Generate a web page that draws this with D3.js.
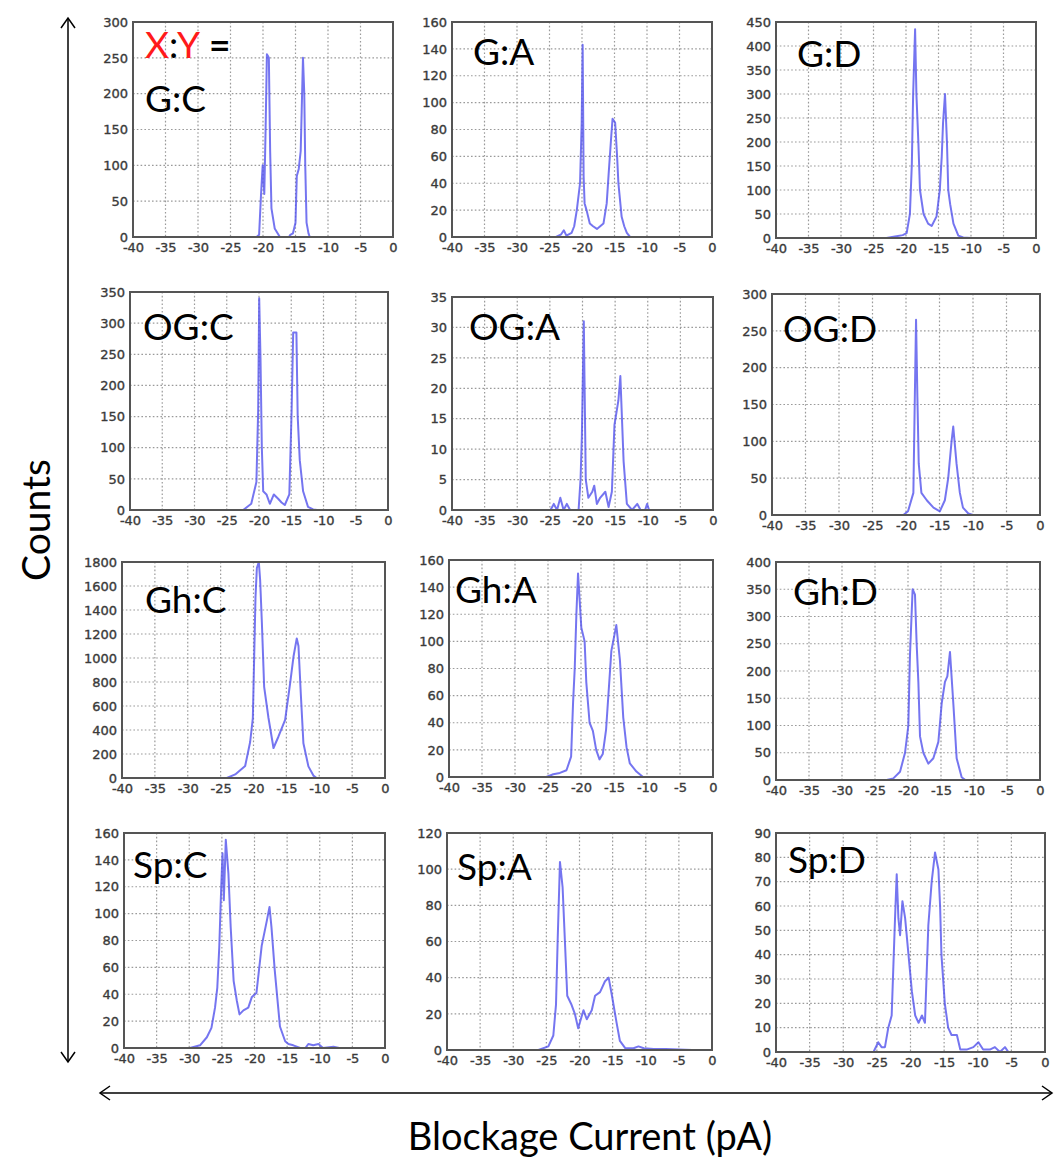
<!DOCTYPE html>
<html><head><meta charset="utf-8">
<script src="https://cdn.jsdelivr.net/npm/d3@7"></script>
<style>body{margin:0;background:#fff}</style>
</head><body>
<svg id="c" width="1054" height="1158"></svg>
<script>
// ---------- DATA ----------
const xTicks = [-40, -35, -30, -25, -20, -15, -10, -5, 0];
const panelNames = ["G:C","G:A","G:D","OG:C","OG:A","OG:D","Gh:C","Gh:A","Gh:D","Sp:C","Sp:A","Sp:D"];
const yMaxes = [300,160,450,350,35,300,1800,160,400,160,120,90];
const ySteps = [50,20,50,50,5,50,200,20,50,20,20,10];

const GC_current = [-22,-21,-20.6,-20.3,-20.05,-19.8,-19.6,-19.4,-19.1,-18.9,-18.7,-18.2,-17.4,-16,-15.8,-15.4,-15.0,-14.8,-14.5,-14.2,-14.05,-13.85,-13.65,-13.5,-13.3,-13.0,-12.8,-12];
const GC_counts  = [0,0,3,60,100,60,150,255,250,120,40,12,0,0,3,5,20,85,95,120,175,250,200,100,20,5,0,0];

const GA_current = [-25,-24,-23.2,-22.8,-22.4,-21.6,-21.2,-20.8,-20.3,-20.05,-19.9,-19.75,-19.6,-19.3,-18.8,-18.3,-17.7,-17.2,-16.7,-16.2,-15.9,-15.5,-15.3,-14.9,-14.6,-14.4,-13.9,-13.5,-13.1,-12.6,-12];
const GA_counts  = [0,0,2,5,1,3,8,20,40,85,143,45,25,20,10,8,6,8,10,25,47,75,88,85,60,40,15,8,3,0,0];

const GD_current = [-23,-21.7,-20.5,-19.9,-19.4,-19.1,-18.9,-18.6,-18.4,-18.1,-17.85,-17.3,-16.6,-16.05,-15.3,-14.8,-14.5,-14.3,-14.0,-13.7,-13.5,-13.2,-12.7,-11.95,-11.2,-10];
const GD_counts  = [0,3,6,10,50,155,300,435,300,200,100,50,30,25,45,100,170,240,300,200,100,70,30,5,1,0];

const OGC_current = [-23,-22.45,-21.2,-20.4,-20.13,-19.97,-19.77,-19.56,-19.35,-18.84,-18.32,-17.7,-17.03,-16.5,-16.0,-15.3,-14.94,-14.7,-14.2,-14.0,-13.68,-13.16,-12.4,-11.6,-11];
const OGC_counts  = [0,0,10,45,160,340,245,100,30,25,10,25,18,12,8,25,160,285,285,150,80,30,5,1,0];

const OGA_current = [-26,-24.9,-24.4,-23.9,-23.4,-22.9,-22.4,-21.9,-20.6,-20.3,-20.1,-19.8,-19.7,-19.5,-19.1,-18.5,-18.2,-17.8,-17.3,-16.5,-16.0,-15.5,-15.1,-14.5,-14.2,-13.7,-13.2,-12.4,-11.6,-11.1,-10.4,-10.1,-9.8,-9];
const OGA_counts  = [0,0,1,0,2,0,1,0,0,5,12,31,22,5,2,3,4,1,2,3,0.5,3,14,18,22,8,1,0,1,0,0,1,0,0];

const OGD_current = [-21,-20.4,-19.7,-18.9,-18.7,-18.5,-18.3,-18.1,-17.7,-16.9,-15.9,-14.95,-14.2,-13.7,-13.2,-12.95,-12.46,-11.96,-11.5,-10.7,-10];
const OGD_counts  = [0,0,5,30,150,265,160,70,30,20,10,5,20,50,100,120,70,30,10,2,0];

const GhC_current = [-24.5,-24.05,-22.78,-21.27,-20.51,-20.1,-19.9,-19.7,-19.49,-19.19,-18.99,-18.73,-18.38,-17.72,-16.96,-16.2,-15.19,-14.43,-13.92,-13.42,-13.16,-12.81,-12.41,-11.65,-10.89,-10.4,-10];
const GhC_counts  = [0,0,30,100,300,500,1000,1500,1750,1800,1650,1300,760,500,250,346,485,789,1010,1163,1100,706,290,97,20,0,0];

const GhA_current = [-26,-25.25,-24.2,-23.2,-22.2,-21.5,-21.2,-20.95,-20.7,-20.45,-20.2,-19.95,-19.45,-19.2,-18.7,-18.2,-17.7,-17.2,-16.7,-16.2,-15.4,-14.65,-14.1,-13.6,-13.1,-12.6,-11.6,-10.6,-10];
const GhA_counts  = [0,0,2,3,5,15,55,80,120,150,130,110,100,70,40,34,20,13,17,35,93,112,86,44,22,10,4,0,0];

const GhD_current = [-24,-23.23,-22.22,-21.21,-20.45,-19.95,-19.7,-19.3,-18.94,-18.69,-18.43,-18.18,-17.68,-16.92,-16.16,-15.4,-14.9,-14.4,-14.04,-13.64,-13.13,-12.63,-11.87,-11.3,-10.5];
const GhD_counts  = [0,0,3,15,50,100,230,350,340,250,180,80,50,30,40,70,140,180,190,235,140,40,5,0,0];

const SpC_current = [-31,-29.9,-28.35,-27.3,-26.6,-26.05,-25.7,-25.4,-25.1,-24.9,-24.7,-24.4,-24.0,-23.65,-23.2,-22.7,-22.3,-21.7,-20.95,-20.4,-19.7,-18.9,-18.1,-17.7,-17.4,-16.9,-16.1,-15.3,-14.8,-14.05,-13.0,-12.2,-11.75,-11.0,-10.2,-9.5,-7.9,-7];
const SpC_counts  = [0,0,2,8,15,30,45,75,120,145,110,155,130,90,50,35,25,28,30,38,41,76,95,105,90,58,16,5,3,2,0,0,3,2,3,0,1,0];

const SpA_current = [-27,-26.2,-24.7,-23.95,-23.55,-23.3,-22.95,-22.55,-22.2,-21.85,-21.2,-20.7,-20.2,-19.4,-18.9,-18.15,-17.65,-16.9,-16.15,-15.6,-15.1,-14.4,-13.9,-13.1,-11.85,-11.1,-10.3,-8.8,-7,-3,0];
const SpA_counts  = [0,0,2,8,25,60,104,90,60,30,25,20,12,22,17,22,30,32,38,40,30,15,5,1,1,2,1,0.5,0.5,0,0];

const SpD_current = [-27,-25.5,-24.8,-24.3,-23.8,-23.3,-22.8,-22.55,-22.3,-22.05,-21.8,-21.55,-21.2,-20.8,-20.3,-19.8,-19.3,-18.8,-18.3,-17.85,-17.35,-16.85,-16.35,-15.85,-15.6,-15.4,-14.9,-14.4,-13.9,-13.1,-12.6,-11.65,-10.65,-9.9,-9.2,-8.2,-7.45,-6.7,-5.95,-5.45,-4];
const SpD_counts  = [0,0,4,2,2,10,15,35,55,73,55,48,62,55,40,25,15,12,15,12,52,70,82,75,60,40,20,10,7,7,1,1,2,4,1,1,2,0,2,0,0];

const currents = [GC_current,GA_current,GD_current,OGC_current,OGA_current,OGD_current,GhC_current,GhA_current,GhD_current,SpC_current,SpA_current,SpD_current];
const counts = [GC_counts,GA_counts,GD_counts,OGC_counts,OGA_counts,OGD_counts,GhC_counts,GhA_counts,GhD_counts,SpC_counts,SpA_counts,SpD_counts];

// ---------- LAYOUT ----------
const boxes = [
  [133,22,393,237],[452,22,712,237],[776,22,1036,238],
  [130,292,388,510],[452,297,713,510],[772,294,1040,515],
  [122,562,385,778],[449,560,713,777],[776,562,1040,780],
  [124,833,385,1048],[447,833,712,1050],[776,833,1045,1052]
];
const labelPos = [
  [145,112],[473,65],[797,67],
  [143,340],[469,340],[783,342],
  [145,613],[455,603],[793,605],
  [133,878],[457,880],[788,873]
];

const svg = d3.select("#c");
const defs = svg.append("defs");

panelNames.forEach((name, i) => {
  const b = boxes[i];
  const x = d3.scaleLinear().domain([-40,0]).range([b[0], b[2]]);
  const y = d3.scaleLinear().domain([0, yMaxes[i]]).range([b[3], b[1]]);
  const g = svg.append("g");
  const yTicks = d3.range(0, yMaxes[i] + ySteps[i]/2, ySteps[i]);

  // grid
  g.selectAll(".gx").data(xTicks.slice(1,-1)).join("line")
    .attr("x1", d => x(d)).attr("x2", d => x(d))
    .attr("y1", b[1]).attr("y2", b[3])
    .attr("stroke", "#9a9a9a").attr("stroke-width", 1.2).attr("stroke-dasharray", "1.6,2.2");
  g.selectAll(".gy").data(yTicks.slice(1,-1)).join("line")
    .attr("y1", d => y(d)).attr("y2", d => y(d))
    .attr("x1", b[0]).attr("x2", b[2])
    .attr("stroke", "#9a9a9a").attr("stroke-width", 1.2).attr("stroke-dasharray", "1.6,2.2");

  // clip
  defs.append("clipPath").attr("id", "clip" + i).append("rect")
    .attr("x", b[0]).attr("y", b[1]).attr("width", b[2]-b[0]).attr("height", b[3]-b[1]);

  const pts = currents[i].map((c, k) => [c, counts[i][k]]);
  g.append("path").datum(pts)
    .attr("clip-path", "url(#clip" + i + ")")
    .attr("d", d3.line().x(d => x(d[0])).y(d => y(d[1])))
    .attr("fill", "none").attr("stroke", "#5252ec").attr("stroke-opacity", 0.8)
    .attr("stroke-width", 2).attr("stroke-linejoin", "round");

  // frame
  g.append("rect").attr("x", b[0]).attr("y", b[1]).attr("width", b[2]-b[0]).attr("height", b[3]-b[1])
    .attr("fill", "none").attr("stroke", "#555").attr("stroke-width", 2);

  // axes
  const ax = g.append("g").attr("transform", `translate(0,${b[3]})`)
    .call(d3.axisBottom(x).tickValues(xTicks).tickSize(0).tickPadding(6).tickFormat(d => String(d)));
  const ay = g.append("g").attr("transform", `translate(${b[0]},0)`)
    .call(d3.axisLeft(y).tickValues(yTicks).tickSize(0).tickPadding(5).tickFormat(d => String(d)));
  [ax, ay].forEach(a => {
    a.select(".domain").remove();
    a.selectAll("text").attr("font-family", "DejaVu Sans").attr("font-size", 13)
      .attr("fill", "#3a3a3a").attr("stroke", "#3a3a3a").attr("stroke-width", 0.35);
  });

  // label
  g.append("text").attr("x", labelPos[i][0]).attr("y", labelPos[i][1])
    .attr("font-family", "Lato").attr("font-size", 37).attr("fill", "#000").text(name);
});

// "X:Y =" header in first panel
const hdr = svg.append("text").attr("x", 145).attr("y", 58)
  .attr("font-family", "Lato").attr("font-size", 37);
hdr.append("tspan").attr("fill", "#ff1a1a").text("X");
hdr.append("tspan").attr("fill", "#000").text(":");
hdr.append("tspan").attr("fill", "#ff1a1a").text("Y");
hdr.append("tspan").attr("fill", "#000").attr("font-weight", "bold").text(" =");

// big arrows
const ar = svg.append("g").attr("stroke", "#000").attr("stroke-width", 1.5).attr("fill", "none");
ar.append("line").attr("x1", 68).attr("y1", 18).attr("x2", 68).attr("y2", 1062);
ar.append("path").attr("d", "M61,28 L68,18 L75,28");
ar.append("path").attr("d", "M61,1052 L68,1062 L75,1052");
ar.append("line").attr("x1", 100).attr("y1", 1093).attr("x2", 1052).attr("y2", 1093);
ar.append("path").attr("d", "M110,1086 L100,1093 L110,1100");
ar.append("path").attr("d", "M1042,1086 L1052,1093 L1042,1100");

svg.append("text").attr("transform", "translate(50,520) rotate(-90)")
  .attr("text-anchor", "middle").attr("font-family", "Lato").attr("font-size", 39).text("Counts");
svg.append("text").attr("x", 590).attr("y", 1150)
  .attr("text-anchor", "middle").attr("font-family", "Lato").attr("font-size", 38).text("Blockage Current (pA)");
</script>
</body></html>
